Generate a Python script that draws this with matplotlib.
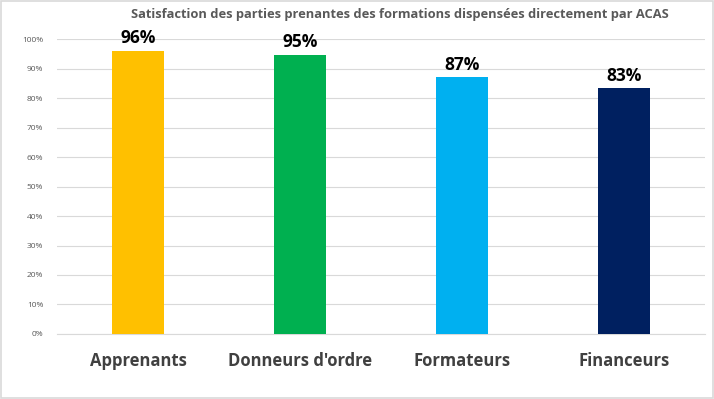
import matplotlib
matplotlib.use("Agg")
import matplotlib.pyplot as plt
from matplotlib.ticker import PercentFormatter
from matplotlib.patches import Rectangle

#Data
categories = ["Apprenants", "Donneurs d'ordre", "Formateurs", "Financeurs"]
values = [0.96, 0.946, 0.87, 0.834]
labels = ["96%", "95%", "87%", "83%"]
colors = ["#FFC000", "#00B050", "#00B0F0", "#002060"]

plt.rcParams['font.family'] = ['Open Sans', 'DejaVu Sans']

fig = plt.figure(figsize=(7.14, 3.99), dpi=100)
ax = fig.add_axes([0.080, 0.163, 0.907, 0.739])

x = range(len(categories))
bars = ax.bar(x, values, width=0.32, color=colors, zorder=3)

for b, lab in zip(bars, labels):
    ax.text(b.get_x() + b.get_width() / 2, b.get_height() + 0.012, lab,
            ha="center", va="bottom", fontsize=12.5, fontweight="bold", color="black")

ax.set_xlim(-0.5, 3.5)
ax.set_ylim(0, 1.0)
ax.set_yticks([i / 10 for i in range(11)])
ax.yaxis.set_major_formatter(PercentFormatter(1.0, decimals=0))
ax.tick_params(axis="y", length=0, labelsize=6, labelcolor="#595959", pad=10)
ax.set_xticks(list(x))
ax.set_xticklabels(categories, fontsize=12, fontweight="bold", color="#404040")
ax.tick_params(axis="x", length=0, pad=13)
ax.grid(axis="y", color="#D9D9D9", linewidth=0.8, zorder=0)
for s in ["top", "right", "left"]:
    ax.spines[s].set_visible(False)
ax.spines["bottom"].set_color("#D9D9D9")

fig.text(0.56, 0.963, "Satisfaction des parties prenantes des formations dispensées directement par ACAS",
         ha="center", va="center", fontsize=9.3, fontweight="bold", color="#595959")

fig.patches.append(Rectangle((0.002, 0.003), 0.996, 0.994, transform=fig.transFigure,
                             fill=False, edgecolor="#D9D9D9", linewidth=1.2))

fig.savefig("out.png", dpi=100)
